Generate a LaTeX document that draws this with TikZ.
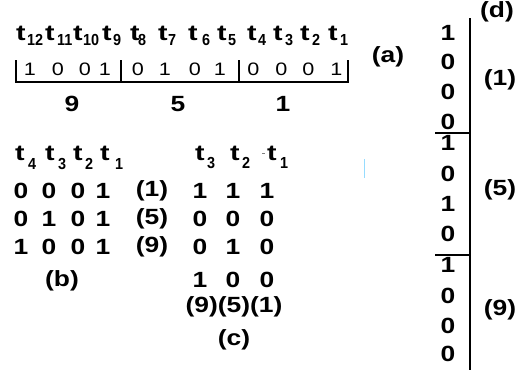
\documentclass[tikz,border=0pt]{standalone}
\usepackage{fontspec}
\setmainfont{Liberation Sans}
\newcommand{\W}[1]{\scalebox{1.2}[1]{#1}}
\newcommand{\Wt}[1]{\scalebox{1.3}[1]{#1}}
\newcommand{\Ws}[1]{\scalebox{0.9}[1]{#1}}
\definecolor{cursorblue}{RGB}{150,220,255}
\tikzset{
 big/.style={inner sep=0pt, font=\fontsize{22}{22}\selectfont\bfseries},
 reg/.style={inner sep=0pt, font=\fontsize{18}{18}\selectfont},
 tlet/.style={inner sep=0pt, anchor=base west, font=\fontsize{22}{22}\selectfont\bfseries},
 tsub/.style={inner sep=0pt, anchor=base west, font=\fontsize{16}{16}\selectfont\bfseries},
 bar/.style={line width=2pt},
 sepline/.style={line width=2.5pt},
}
\begin{document}
\begin{tikzpicture}[x=1pt,y=-1pt]
\useasboundingbox (0,0) rectangle (519,370);
% (a) top row of t's
\foreach \n/\tx/\sx in {12/16/27, 11/45/57, 10/73/83, 9/102/113, 8/130/138, 7/158/168, 6/188/202, 5/217/228, 4/247/258, 3/273/285, 2/300/312, 1/328/340}{
  \node[tlet] (ta\n) at (\tx,40) {\Wt{t}};
  \node[tsub] (sa\n) at (\sx,45) {\Ws{\n}};
}
% bracket
\coordinate (bl) at (16,60);
\coordinate (blb) at (16,82);
\coordinate (brb) at (348,82);
\coordinate (br) at (348,60);
\coordinate (d1t) at (121,60);
\coordinate (d1b) at (121,82);
\coordinate (d2t) at (239,60);
\coordinate (d2b) at (239,82);
\draw[bar] (bl) -- (blb) -- (brb) -- (br);
\draw[bar] (d1t) -- (d1b);
\draw[bar] (d2t) -- (d2b);
\foreach \d/\x [count=\i] in {1/30,0/58,0/85,1/105,0/138,1/165,0/195,1/220,0/253.5,0/281.5,0/308.5,1/336.5}{
  \node[reg] (bd\i) at (\x,69.5) {\W{\d}};
}
\node[big] (n9) at (72,104) {\W{9}};
\node[big] (n5) at (178,104) {\W{5}};
\node[big] (n1) at (283,104) {\W{1}};
\node[big] (la) at (388,57) {\W{(a)}};
% (b)
\foreach \n/\tx/\sx in {4/15/28, 3/45/58, 2/73/85, 1/100/115}{
  \node[tlet] (tb\n) at (\tx,160) {\Wt{t}};
  \node[tsub] (sb\n) at (\sx,169) {\Ws{\n}};
}
\foreach \r/\y/\a/\b/\c/\e/\lab in {1/191/0/0/0/1/1, 2/219/0/1/0/1/5, 3/247/1/0/0/1/9}{
  \node[big] (b\r a) at (21,\y) {\W{\a}};
  \node[big] (b\r b) at (49,\y) {\W{\b}};
  \node[big] (b\r c) at (78,\y) {\W{\c}};
  \node[big] (b\r d) at (103,\y) {\W{\e}};
  \node[big] (bl\r) at (152,\y) {\W{(\lab)}};
}
\node[big] (lb) at (62,281) {\W{(b)}};
% (c)
\foreach \n/\tx/\sx in {3/195/207, 2/230/242, 1/267/280}{
  \node[tlet] (tc\n) at (\tx,160) {\Wt{t}};
  \node[tsub] (sc\n) at (\sx,168) {\Ws{\n}};
}
\coordinate (dashA) at (262,153);
\coordinate (dashB) at (265,153);
\draw[line width=0.8pt, gray] (dashA) -- (dashB);
\foreach \r/\y/\a/\b/\c in {1/191/1/1/1, 2/219/0/0/0, 3/247/0/1/0, 4/280/1/0/0}{
  \node[big] (c\r a) at (200,\y) {\W{\a}};
  \node[big] (c\r b) at (233,\y) {\W{\b}};
  \node[big] (c\r c) at (267,\y) {\W{\c}};
}
\node[big] (cl) at (234,307) {\W{(9)(5)(1)}};
\node[big] (lc) at (234,340) {\W{(c)}};
% cursor mark
\coordinate (cuA) at (364,159);
\coordinate (cuB) at (364,178);
\draw[line width=1pt, cursorblue] (cuA) -- (cuB);
% (d)
\coordinate (vt) at (470,18);
\coordinate (vb) at (470,370);
\draw[bar] (vt) -- (vb);
\coordinate (s1l) at (435,133);
\coordinate (s1r) at (470,133);
\coordinate (s2l) at (435,255);
\coordinate (s2r) at (470,255);
\draw[sepline] (s1l) -- (s1r);
\draw[sepline] (s2l) -- (s2r);
\foreach \d/\y [count=\i] in {1/33,0/62,0/92,0/122,1/143,0/174,1/204,0/234,1/265,0/296,0/326,0/354}{
  \node[big] (dd\i) at (448,\y) {\W{\d}};
}
\node[big] (ld) at (497,12) {\W{(d)}};
\node[big] (ld1) at (500,80) {\W{(1)}};
\node[big] (ld5) at (500,190) {\W{(5)}};
\node[big] (ld9) at (500,310) {\W{(9)}};
\end{tikzpicture}
\end{document}
